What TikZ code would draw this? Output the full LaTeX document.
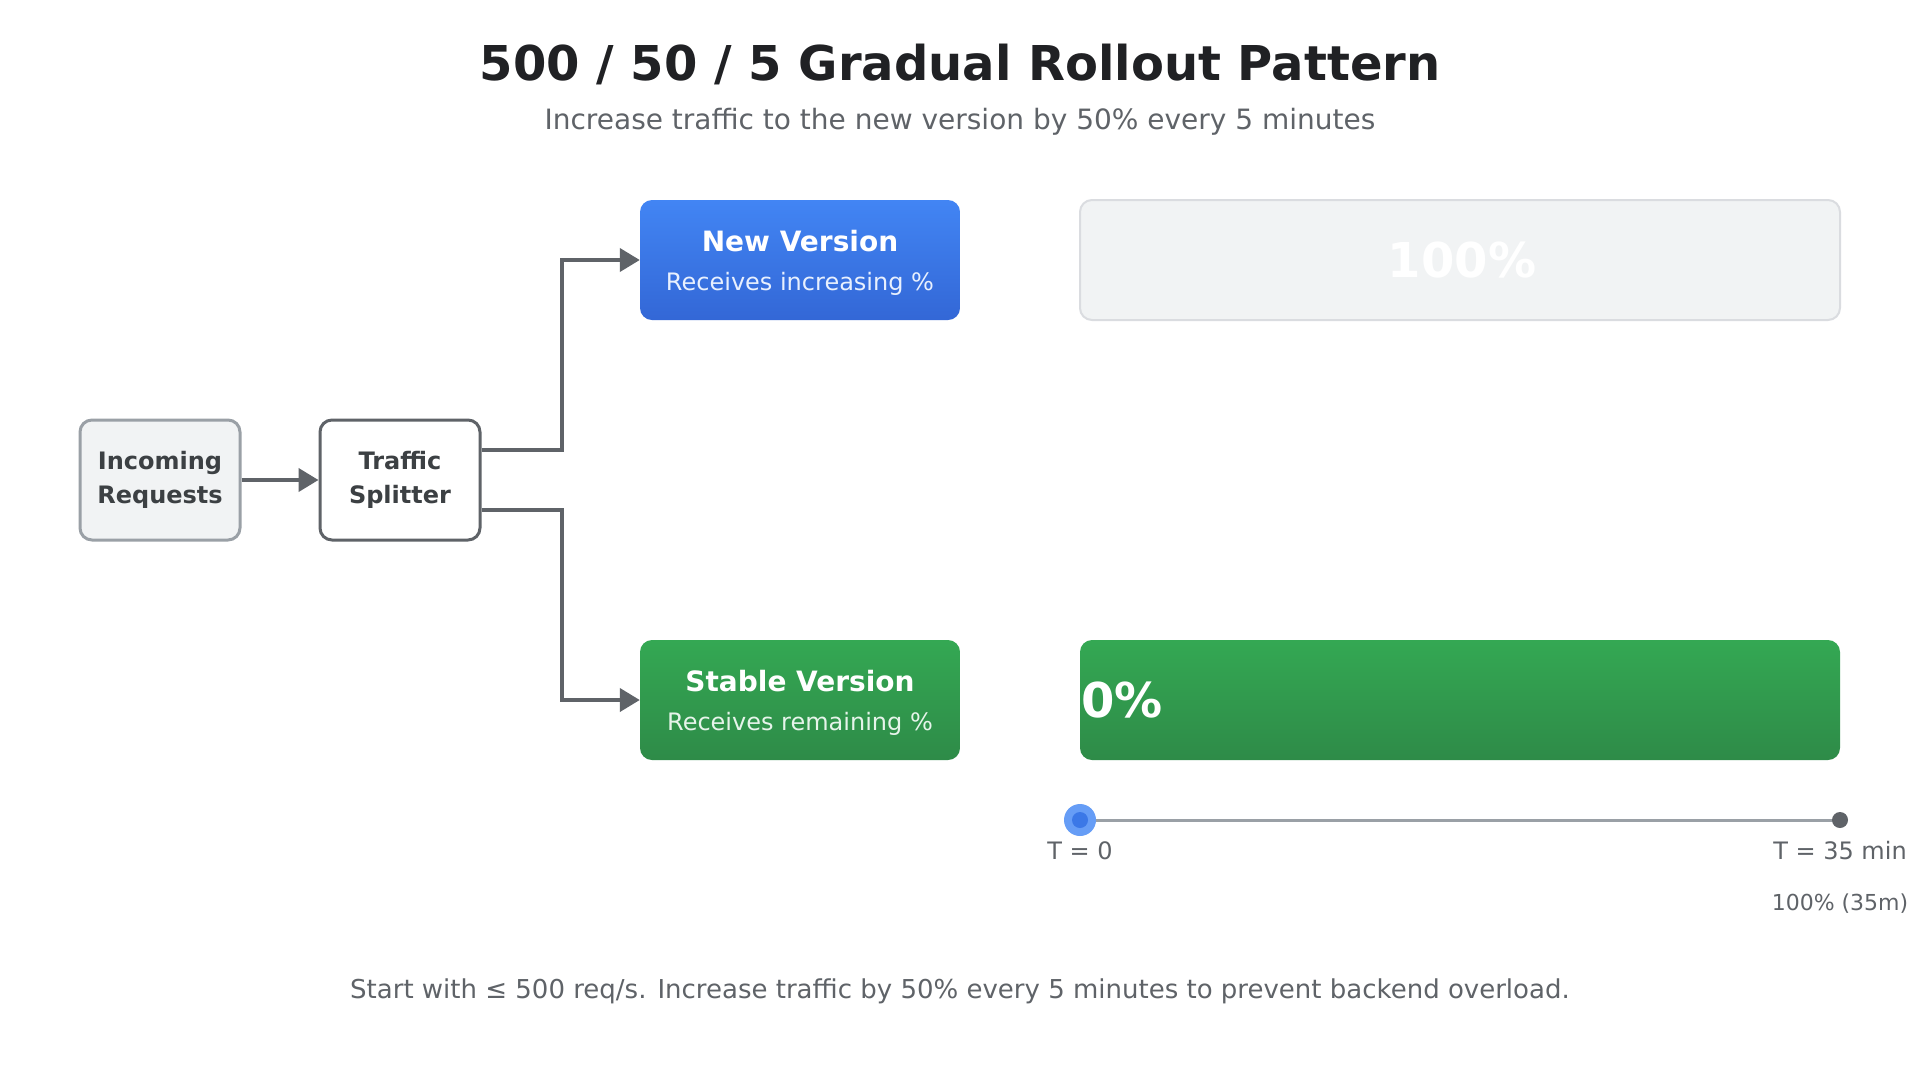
\documentclass[tikz,border=0pt]{standalone}
\usepackage{fontspec}
\setmainfont{DejaVu Sans}
\usetikzlibrary{arrows.meta,calc}
\definecolor{titlec}{HTML}{202124}
\definecolor{subc}{HTML}{5F6368}
\definecolor{nodetext}{HTML}{3C4043}
\definecolor{lightbg}{HTML}{F1F3F4}
\definecolor{lightborder}{HTML}{9AA0A6}
\definecolor{darkborder}{HTML}{5F6368}
\definecolor{barborder}{HTML}{DADCE0}
\definecolor{bluetop}{HTML}{4285F4}
\definecolor{bluebot}{HTML}{3367D6}
\definecolor{greentop}{HTML}{34A853}
\definecolor{greenbot}{HTML}{2E8B48}
\definecolor{bluesub}{HTML}{E8F0FE}
\definecolor{greensub}{HTML}{E6F4EA}
\definecolor{markerlight}{HTML}{669DF6}
\definecolor{markerdark}{HTML}{3B78E7}
\tikzset{
  flowbox/.style={rounded corners=12pt, line width=3pt, minimum width=160pt, minimum height=120pt, inner sep=0pt, align=center, text=nodetext, font=\bfseries\fontsize{24}{34}\selectfont},
  verbox/.style={rounded corners=12pt, minimum width=320pt, minimum height=120pt, inner sep=0pt},
  barbox/.style={rounded corners=12pt, minimum width=760pt, minimum height=120pt, inner sep=0pt},
  vertitle/.style={anchor=base, inner sep=0pt, text=white, font=\bfseries\fontsize{28}{34}\selectfont},
  versub/.style={anchor=base, inner sep=0pt, font=\fontsize{24}{29}\selectfont},
  pcttext/.style={inner sep=0pt, text=white, font=\bfseries\fontsize{48}{58}\selectfont},
  conn/.style={draw=darkborder, line width=4pt, -{Triangle[length=20pt,width=23pt]}},
  tlabel/.style={anchor=base, inner sep=0pt, text=subc, font=\fontsize{24}{29}\selectfont}
}
\begin{document}
\begin{tikzpicture}[x=1pt,y=-1pt]
\useasboundingbox (0,0) rectangle (1920,1080);
\fill[white] (0,0) rectangle (1920,1080);

% title
\node[anchor=base, inner sep=0pt, text=titlec, font=\bfseries\fontsize{48}{58}\selectfont] (title) at (960,80) {500 / 50 / 5 Gradual Rollout Pattern};
\node[anchor=base, inner sep=0pt, text=subc, font=\fontsize{28}{34}\selectfont] (subtitle) at (960,129) {Increase traffic to the new version by 50\% every 5 minutes};

% flow nodes
\node[flowbox, draw=lightborder, fill=lightbg] (inc) at (160,480) {Incoming\\Requests};
\node[flowbox, draw=darkborder, fill=white] (split) at (400,480) {Traffic\\Splitter};

\node[verbox, top color=bluetop, bottom color=bluebot] (newv) at (800,260) {};
\node[vertitle] (newvt) at ($(newv.center)+(0,-9)$) {New Version};
\node[versub, text=bluesub] (newvs) at ($(newv.center)+(0,30)$) {Receives increasing \%};

\node[verbox, top color=greentop, bottom color=greenbot] (stable) at (800,700) {};
\node[vertitle] (stablet) at ($(stable.center)+(0,-9)$) {Stable Version};
\node[versub, text=greensub] (stables) at ($(stable.center)+(0,30)$) {Receives remaining \%};

% connectors
\draw[conn] (inc) -- (split);
\draw[conn] ([yshift=30pt]split.east) -- ++(80,0) |- (newv.west);
\draw[conn] ([yshift=-30pt]split.east) -- ++(80,0) |- (stable.west);

% bars
\node[barbox, draw=barborder, line width=2pt, fill=lightbg] (bar1) at (1460,260) {};
\node[pcttext, anchor=base] (pct1) at ($(bar1.center)+(2,17)$) {100\%};
\node[barbox, top color=greentop, bottom color=greenbot] (bar2) at (1460,700) {};
\node[pcttext, anchor=base west] (pct2) at ($(bar2.west)+(1,17)$) {0\%};

% timeline
\coordinate (t0) at (1080,820);
\coordinate (t1) at (1840,820);
\draw[lightborder, line width=3pt] (t0) -- (t1);
\node[circle, fill=markerlight, minimum size=32pt, inner sep=0pt] (m0) at (t0) {};
\node[circle, fill=markerdark, minimum size=16pt, inner sep=0pt] (m0i) at (t0) {};
\node[circle, fill=darkborder, minimum size=16pt, inner sep=0pt] (m1) at (t1) {};
\node[tlabel] (l0) at (1080,859) {T = 0};
\node[tlabel] (l1) at (1840,859) {T = 35 min};
\node[anchor=base, inner sep=0pt, text=subc, font=\fontsize{22}{27}\selectfont] (l2) at (1840,910) {100\% (35m)};

% footer
\node[anchor=base, inner sep=0pt, text=subc, font=\fontsize{26}{31}\selectfont] (footer) at (960,998) {Start with ≤ 500 req/s. Increase traffic by 50\% every 5 minutes to prevent backend overload.};
\end{tikzpicture}
\end{document}
